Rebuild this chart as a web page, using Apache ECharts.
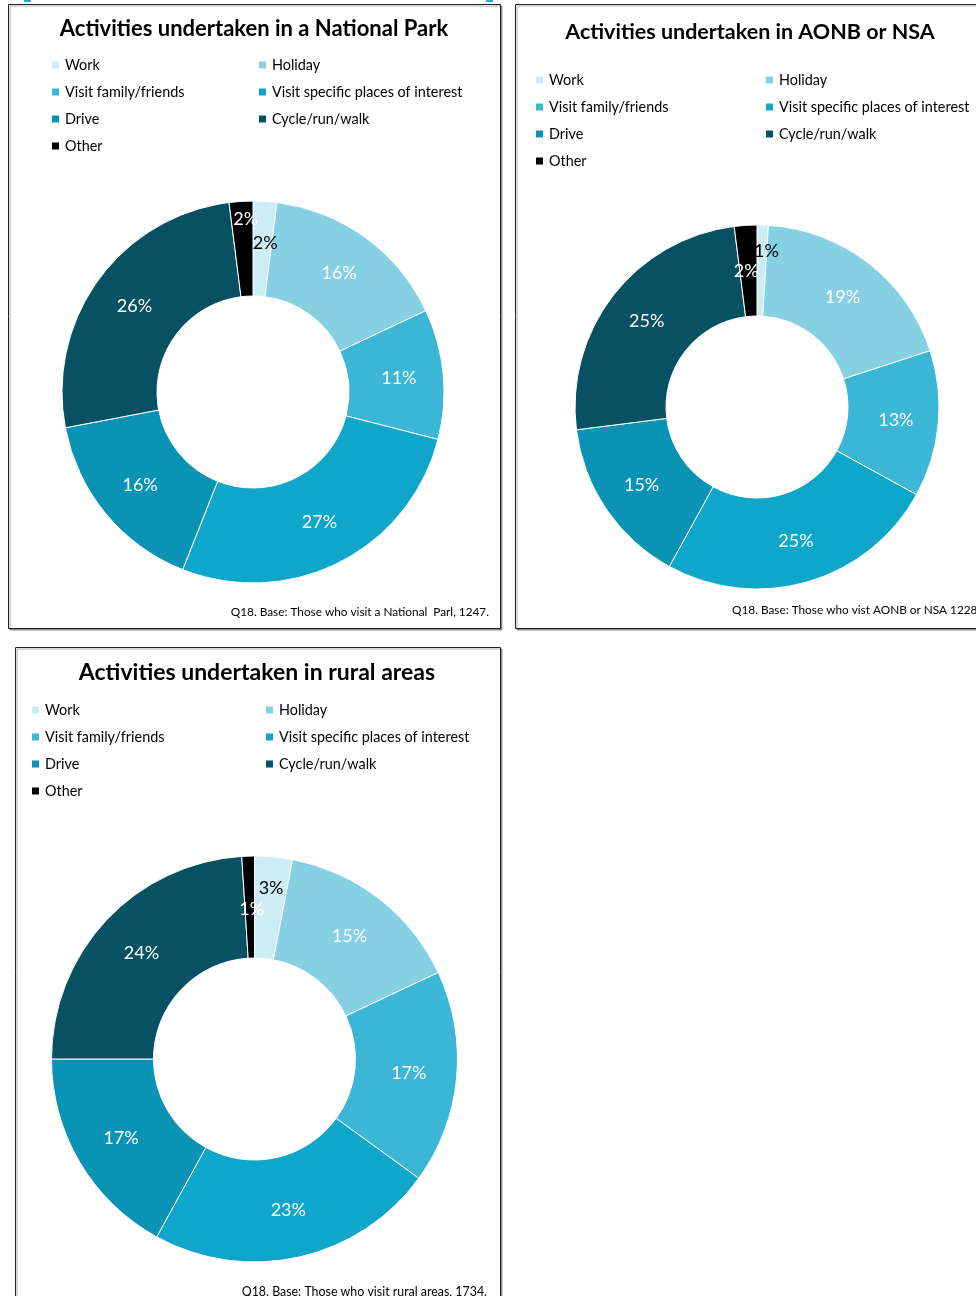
<!DOCTYPE html>
<html>
<head>
<meta charset="utf-8">
<script src="https://cdn.jsdelivr.net/npm/echarts@6/dist/echarts.min.js"></script>
<style>
html,body{margin:0;padding:0;background:#fff;}
#c{width:976px;height:1296px;}
</style>
</head>
<body>
<div id="c"></div>
<script>
// ---- data ----
const categories = ['Work','Holiday','Visit family/friends','Visit specific places of interest','Drive','Cycle/run/walk','Other'];
const legendLeftCol = ['Work','Visit family/friends','Drive','Other'];
const legendRightCol = ['Holiday','Visit specific places of interest','Cycle/run/walk'];
const nationalPark = [2,16,11,27,16,26,2];
const aonbNsa = [1,19,13,25,15,25,2];
const ruralAreas = [3,15,17,23,17,24,1];
const titles = ['Activities undertaken in a National Park','Activities undertaken in AONB or NSA','Activities undertaken in rural areas'];
const footnotes = ['Q18. Base: Those who visit a National  Parl, 1247.','Q18. Base: Those who vist AONB or NSA 1228','Q18. Base: Those who visit rural areas, 1734.'];

// ---- styles ----
const colors = ['#cdedf5','#86d0e4','#3bb6d4','#0fa6c9','#0b93b5','#085163','#000000'];
const FONT = 'Lato, Carlito, Calibri, sans-serif';

const panels = [
  {values: nationalPark, center:[253,392], radius:[96,191], titleX:254, titleTop:18, titleSize:22,
   legL:[50,57], legR:[257,57], box:[8,4,492,624], foot:{x:489,y:612,align:'right',size:11.8},
   offsets:{0:[3,-3],6:[2,-27]}},
  {values: aonbNsa, center:[757,407], radius:[91,182], titleX:750, titleTop:21, titleSize:21.5,
   legL:[534,72], legR:[764,72], box:[515,4,470,624], foot:{x:732,y:610,align:'left',size:11.8},
   offsets:{0:[5,-16],6:[-2,3]}},
  {values: ruralAreas, center:[254.5,1059], radius:[101,203], titleX:257, titleTop:661, titleSize:23,
   legL:[30,702], legR:[264,702], box:[15,647,485,660], foot:{x:487,y:1292,align:'right',size:12.4},
   offsets:{0:[2,-17],6:[2,5]}}
];

const chart = echarts.init(document.getElementById('c'), null, {renderer:'canvas'});

const title = [], legend = [], series = [], graphic = [];
// small cyan fragments at the very top edge
graphic.push({type:'rect', shape:{x:24, y:0, width:7, height:2}, style:{fill:'#2aa9d2'}});
graphic.push({type:'rect', shape:{x:486, y:0, width:7, height:2}, style:{fill:'#2aa9d2'}});
panels.forEach((p, i) => {
  graphic.push({
    type:'rect', shape:{x:p.box[0]+0.5, y:p.box[1]+0.5, width:p.box[2], height:p.box[3]},
    style:{fill:'#fff', stroke:'#222', lineWidth:1, shadowColor:'rgba(0,0,0,0.35)', shadowOffsetX:1.5, shadowOffsetY:1.5, shadowBlur:1},
    z:-10
  });
  graphic.push({
    type:'text', x:p.foot.x, y:p.foot.y,
    style:{text:footnotes[i], font:p.foot.size+'px '+FONT, fill:'#000', textAlign:p.foot.align, textVerticalAlign:'middle'}
  });
  title.push({
    text:titles[i], left:p.titleX, top:p.titleTop, textAlign:'center', padding:0,
    textStyle:{fontFamily:FONT, fontSize:p.titleSize, fontWeight:'bold', color:'#000'}
  });
  const legBase = {
    orient:'vertical', icon:'rect', itemWidth:9, itemHeight:9, itemGap:11, padding:0,
    textStyle:{fontFamily:FONT, fontSize:14.4, color:'#000', lineHeight:16}, selectedMode:false
  };
  legend.push(Object.assign({}, legBase, {data:legendLeftCol, left:p.legL[0], top:p.legL[1]}));
  legend.push(Object.assign({}, legBase, {data:legendRightCol, left:p.legR[0], top:p.legR[1]}));
  series.push({
    type:'pie', center:p.center, radius:p.radius, startAngle:90, clockwise:true,
    avoidLabelOverlap:false, silent:true, animation:false,
    itemStyle:{borderColor:'#fff', borderWidth:1},
    label:{show:true, position:'inside', formatter:'{c}%', color:'#fff', fontFamily:FONT, fontSize:18},
    labelLine:{show:false},
    data: categories.map((name, k) => {
      const d = {name, value:p.values[k], itemStyle:{color:colors[k]}};
      const lab = {};
      if (k === 0) lab.color = '#000';
      if (p.offsets[k]) lab.offset = p.offsets[k];
      if (Object.keys(lab).length) d.label = lab;
      return d;
    })
  });
});

chart.setOption({
  backgroundColor:'#fff',
  animation:false,
  title, legend, series, graphic
});
</script>
</body>
</html>
